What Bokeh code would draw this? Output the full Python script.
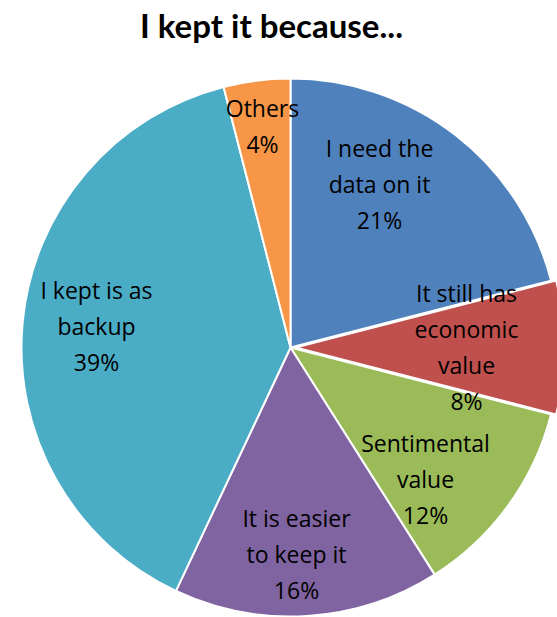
import math
import numpy as np
from bokeh.plotting import figure
from bokeh.models import ColumnDataSource, Range1d
from bokeh.core.properties import value
from bokeh.embed import file_html
from bokeh.resources import INLINE

# ---- data ----
categories = ["I need the data on it", "It still has economic value", "Sentimental value",
              "It is easier to keep it", "I kept is as backup", "Others"]
shares = [21, 8, 12, 16, 39, 4]
label_lines = [
    ["I need the", "data on it", "21%"],
    ["It still has", "economic", "value", "8%"],
    ["Sentimental", "value", "12%"],
    ["It is easier", "to keep it", "16%"],
    ["I kept is as", "backup", "39%"],
    ["Others", "4%"],
]
title_text = "I kept it because..."

# ---- styles / layout ----
colors = ["#4F81BD", "#C0504D", "#9BBB59", "#8064A2", "#4BACC6", "#F79646"]
explode = [0, 5, 0, 0, 0, 0]
W, H = 557, 617
def px(x):
    return x
def py(y):
    return H - y

cx, cy, R = px(290), py(347), 269
# label anchor (page coords: centre x, first line centre y)
label_pos = [(379, 147), (466, 292), (425, 442), (296, 517), (96, 289), (262, 107)]
line_gap = 36

p = figure(width=W, height=H, output_backend="svg", toolbar_location=None,
           x_range=Range1d(0, W), y_range=Range1d(0, H), min_border=0,
           border_fill_color="white", background_fill_color="white")
p.axis.visible = False
p.grid.visible = False
p.outline_line_color = None

vals = np.array(shares, dtype=float)
frac = vals / vals.sum()
cum = np.concatenate([[0], np.cumsum(frac)])
start = [math.pi / 2 - 2 * math.pi * cum[i] for i in range(len(vals))]
end = [math.pi / 2 - 2 * math.pi * cum[i + 1] for i in range(len(vals))]
mid = [(s + e) / 2 for s, e in zip(start, end)]
xs = [cx + ex * math.cos(m) for ex, m in zip(explode, mid)]
ys = [cy + ex * math.sin(m) for ex, m in zip(explode, mid)]

src = ColumnDataSource(dict(x=xs, y=ys, start=start, end=end, color=colors, cat=categories, share=shares))
p.wedge(x="x", y="y", radius=R, start_angle="start", end_angle="end", direction="clock",
        fill_color="color", line_color="white", line_width=2, source=src)

tx, ty, tt = [], [], []
for (lx, ly), lines in zip(label_pos, label_lines):
    for k, line in enumerate(lines):
        tx.append(px(lx))
        ty.append(py(ly + k * line_gap))
        tt.append(line)
p.text(x=tx, y=ty, text=tt, text_align="center", text_baseline="middle",
       text_font=value("Open Sans"), text_font_size="23px", text_color="black")

p.text(x=[px(271)], y=[py(24)], text=[title_text], text_align="center", text_baseline="middle",
       text_font=value("Lato"), text_font_size="33px", text_font_style="bold", text_color="black")

open("out.html", "w").write(file_html(p, INLINE))
